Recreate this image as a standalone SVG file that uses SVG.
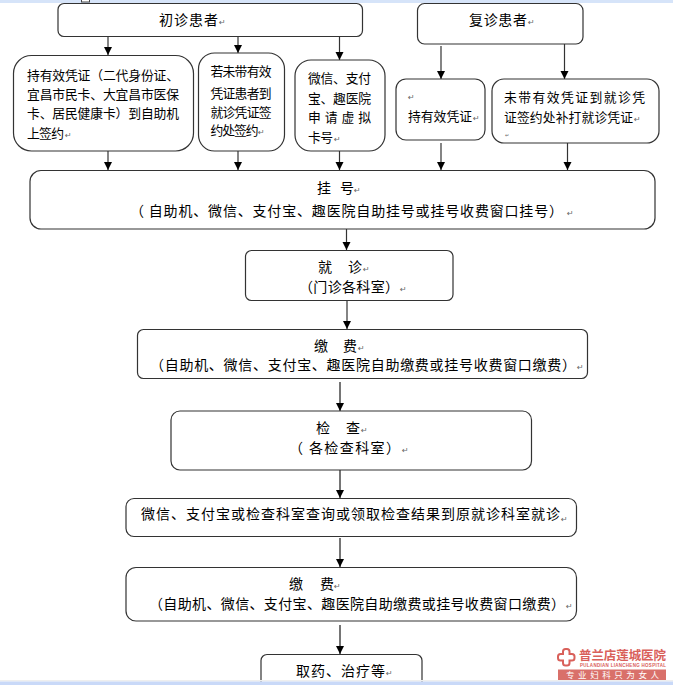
<svg xmlns="http://www.w3.org/2000/svg" width="673" height="685" viewBox="0 0 673 685">
<style>
text{font-family:"Noto Sans CJK SC","Noto Sans CJK TC",sans-serif;fill:#000}
.t{font-size:14px}
.s{font-size:12.800px}
.p{font-family:"DejaVu Sans",sans-serif;font-size:8px;fill:#666}
.b{fill:#fff;stroke:#333;stroke-width:1.2}
.c{stroke:#333;stroke-width:1.2;fill:none;marker-end:url(#a)}
.g{stroke:#666;stroke-width:1.8;fill:none;marker-end:url(#a)}
</style>
<defs><marker id="a" markerUnits="userSpaceOnUse" markerWidth="9" markerHeight="9" refX="8" refY="4" orient="auto"><path d="M0 0L8 4L0 8Z" fill="#000"/></marker></defs>
<rect width="673" height="685" fill="#fff"/>
<rect width="673" height="3" fill="#d6e4f9"/>
<rect x="81.500" y="-2" width="8" height="4" fill="#fff" stroke="#444"/>
<g id="connectors">
<path class="c" d="M108 37V55"/>
<path class="c" d="M238 37V53"/>
<path class="c" d="M339.500 30V60"/>
<path class="c" d="M441 46V79"/>
<path class="c" d="M564.500 40V79"/>
<path class="c" d="M108 151V170"/>
<path class="c" d="M238 151V170"/>
<path class="c" d="M339.500 151V170"/>
<path class="c" d="M441 143V170"/>
<path class="c" d="M567.500 143V170"/>
<path class="c" d="M346.500 229V250"/>
<path class="c" d="M347 300V329"/>
<path class="g" d="M340 382V411"/>
<path class="g" d="M340 470V498"/>
<path class="g" d="M340 538V567"/>
<path class="g" d="M340 625V654"/>
</g>
<g id="n1"><rect class="b" x="58" y="3.500" width="304.500" height="33" rx="6"/><text class="t" x="159" y="25" textLength="59">初诊患者</text><text class="p" x="219" y="25">↵</text></g>
<g id="n2"><rect class="b" x="13.500" y="55.500" width="180" height="95.500" rx="18"/>
<text class="s" x="27" y="80" textLength="152">持有效凭证（二代身份证、</text>
<text class="s" x="27" y="99" textLength="152">宜昌市民卡、大宜昌市医保</text>
<text class="s" x="27" y="118" textLength="152">卡、居民健康卡）到自助机</text>
<text class="s" x="27" y="138" textLength="37">上签约</text><text class="p" x="65" y="138">↵</text></g>
<g id="n3"><rect class="b" x="198.500" y="53" width="86" height="98" rx="16"/>
<text class="s" x="210.500" y="76" textLength="61">若未带有效</text>
<text class="s" x="210.500" y="98" textLength="61">凭证患者到</text>
<text class="s" x="210.500" y="117" textLength="61">就诊凭证签</text>
<text class="s" x="210.500" y="135" textLength="48">约处签约</text><text class="p" x="258" y="135">↵</text></g>
<g id="n4"><rect class="b" x="295" y="60" width="90" height="91" rx="16"/>
<text class="s" x="308" y="83" textLength="63">微信、支付</text>
<text class="s" x="308" y="103" textLength="63">宝、趣医院</text>
<text class="s" x="308" y="122" textLength="63">申 请 虚 拟</text>
<text class="s" x="308" y="142" textLength="25">卡号</text><text class="p" x="334" y="142">↵</text></g>
<g id="n5"><rect class="b" x="417.500" y="3.500" width="165.500" height="40.500" rx="7"/><text class="t" x="469" y="25" textLength="58">复诊患者</text><text class="p" x="528" y="25">↵</text></g>
<g id="n6"><rect class="b" x="396" y="79" width="89" height="61" rx="10"/><text class="p" x="408" y="100">↵</text><text class="s" x="408" y="121" textLength="64">持有效凭证</text><text class="p" x="473" y="121">↵</text></g>
<g id="n7"><rect class="b" x="492" y="79" width="167" height="64" rx="12"/>
<text class="s" x="504" y="102" textLength="141">未带有效凭证到就诊凭</text>
<text class="s" x="504" y="122" textLength="129">证签约处补打就诊凭证</text><text class="p" x="634" y="122">↵</text><text class="p" x="505" y="137" style="font-size:5px">↵</text></g>
<g id="n8"><rect class="b" x="30" y="170.500" width="625" height="58.500" rx="11"/>
<text class="t" x="317" y="193">挂</text><text class="t" x="340" y="193">号</text><text class="p" x="354" y="193">↵</text>
<text class="t" x="130" y="216" textLength="433">（ 自助机、微信、支付宝、趣医院自助挂号或挂号收费窗口挂号）</text><text class="p" x="567" y="216">↵</text></g>
<g id="n9"><rect class="b" x="245.500" y="250.500" width="207.500" height="50" rx="6"/>
<text class="t" x="318" y="272">就</text><text class="t" x="348" y="272">诊</text><text class="p" x="363" y="272">↵</text>
<text class="t" x="299" y="292" textLength="100">（门诊各科室）</text><text class="p" x="400" y="292">↵</text></g>
<g id="n10"><rect class="b" x="137.500" y="329.500" width="450" height="49" rx="6"/>
<text class="t" x="314" y="351">缴</text><text class="t" x="343" y="351">费</text><text class="p" x="358" y="351">↵</text>
<text class="t" x="150" y="370" textLength="426">（自助机、微信、支付宝、趣医院自助缴费或挂号收费窗口缴费）</text><text class="p" x="577" y="370">↵</text></g>
<g id="n11"><rect class="b" x="171" y="411" width="360.500" height="59" rx="9"/>
<text class="t" x="316" y="433">检</text><text class="t" x="346" y="433">查</text><text class="p" x="361" y="433">↵</text>
<text class="t" x="289" y="453" textLength="111">（ 各检查科室）</text><text class="p" x="402" y="453">↵</text></g>
<g id="n12"><rect class="b" x="126" y="498.500" width="450.500" height="38" rx="8"/>
<text class="t" x="141" y="519" textLength="419">微信、支付宝或检查科室查询或领取检查结果到原就诊科室就诊</text><text class="p" x="561" y="522">↵</text></g>
<g id="n13"><rect class="b" x="126" y="567.500" width="450.500" height="53.500" rx="10"/>
<text class="t" x="289" y="589">缴</text><text class="t" x="320" y="589">费</text><text class="p" x="334" y="589">↵</text>
<text class="t" x="149" y="609" textLength="416">（自助机、微信、支付宝、趣医院自助缴费或挂号收费窗口缴费）</text><text class="p" x="566" y="609">↵</text></g>
<g id="n14"><rect class="b" x="261" y="654.500" width="161" height="40" rx="6"/>
<text class="t" x="296" y="676" textLength="89">取药、治疗等</text><text class="p" x="386" y="676">↵</text></g>
<g id="logo">
<path d="M563 651.500a2.500 2.500 0 0 1 2.500-2.500h1.500a2.500 2.500 0 0 1 2.500 2.500v2.500h2.500a2.500 2.500 0 0 1 2.500 2.500v1.500a2.500 2.500 0 0 1-2.500 2.500h-2.500v2.500a2.500 2.500 0 0 1-2.500 2.500h-1.500a2.500 2.500 0 0 1-2.500-2.500v-2.500h-2.500a2.500 2.500 0 0 1-2.500-2.500v-1.500a2.500 2.500 0 0 1 2.500-2.500h2.500z" fill="#fff" stroke="#d9605a" stroke-width="2"/>
<text x="579" y="660" font-size="12.500" font-weight="700" textLength="87" style="fill:#d9605a">普兰店莲城医院</text>
<text x="580" y="666.500" font-size="4.500" font-weight="700" textLength="86" style="font-family:'Liberation Sans',sans-serif;fill:#d9605a">PULANDIAN LIANCHENG HOSPITAL</text>
<rect x="558" y="669.500" width="108" height="10.500" fill="#d9706a"/>
<text x="566" y="677.800" font-size="8.500" textLength="93" style="fill:#fff">专业妇科只为女人</text>
</g>
<rect y="680" width="673" height="1.500" fill="#eee"/>
<rect y="681.500" width="673" height="3.500" fill="#c9d9f8"/>
</svg>
